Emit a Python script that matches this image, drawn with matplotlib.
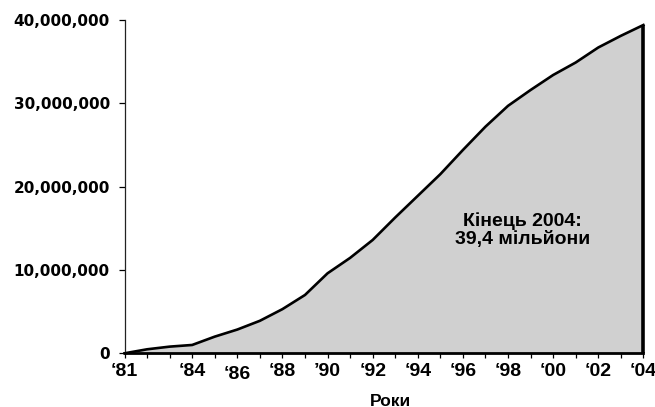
import numpy as np
import matplotlib
matplotlib.use("Agg")
import matplotlib.pyplot as plt

# data (millions of users, end of year)
years = np.arange(1981, 2005)
users_mln = [0.0, 0.48, 0.8, 1.0, 2.0, 2.85, 3.9, 5.3, 7.0, 9.6, 11.45, 13.6,
             16.3, 18.9, 21.5, 24.4, 27.2, 29.7, 31.6, 33.4, 34.9, 36.7, 38.1, 39.4]
users = np.array(users_mln) * 1e6

label_years = [1981, 1984, 1986, 1988, 1990, 1992, 1994, 1996, 1998, 2000, 2002, 2004]
label_text = ['\u201881', '\u201884', '\u201886', '\u201888', '\u201990', '\u201892',
              '\u201894', '\u201896', '\u201898', '\u201800', '\u201802', '\u201804']
yticks = [0, 10e6, 20e6, 30e6, 40e6]
note = 'Кінець 2004:\n39,4 мільйони'

W, H = 655, 407
fig = plt.figure(figsize=(W/100, H/100), dpi=100, facecolor='white')
left, right, top, bottom = 124.5, 643.4, 20, 353.3
ax = fig.add_axes([left/W, 1 - bottom/H, (right-left)/W, (bottom-top)/H])

ax.fill_between(years, users, 0, color='#d0d0d0', lw=0)
ax.plot(years, users, color='black', lw=1.9, clip_on=False, solid_joinstyle='round')
ax.vlines(years[-1], 0, users[-1], color='black', lw=2.6, clip_on=False)

ax.set_xlim(years[0], years[-1])
ax.set_ylim(0, 40e6)

for s in ['top', 'right']:
    ax.spines[s].set_visible(False)
ax.spines['left'].set_linewidth(0.9)
ax.spines['left'].set_color('#222222')
ax.spines['bottom'].set_linewidth(2.0)
ax.spines['bottom'].set_color('black')
ax.spines['bottom'].set_zorder(5)

ax.set_xticks(years)
ax.set_xticklabels([label_text[label_years.index(y)] if y in label_years else '' for y in years],
                   fontfamily='Liberation Sans', fontweight='bold', fontsize=14)
ax.tick_params(axis='x', direction='out', length=3.8, width=0.9, pad=3)
for lab, y in zip(ax.get_xticklabels(), years):
    if y == 1986:
        lab.set_y(-0.009)

ax.set_yticks(yticks)
ax.set_yticklabels(['{:,.0f}'.format(v) for v in yticks],
                   fontfamily='DejaVu Sans', fontweight='bold', fontsize=11)
ax.tick_params(axis='y', direction='out', length=4.5, width=0.9, pad=6)

ax.text(1998.64, 14.8e6, note, ha='center', va='center', fontsize=14,
        fontweight='bold', fontfamily='Liberation Sans', linespacing=1.05)

fig.text(391/W, 1 - 401/H, 'Роки', ha='center', va='center', fontsize=12.5,
         fontweight='bold', fontfamily='Liberation Sans')

fig.savefig('out.png', dpi=100, facecolor='white')
